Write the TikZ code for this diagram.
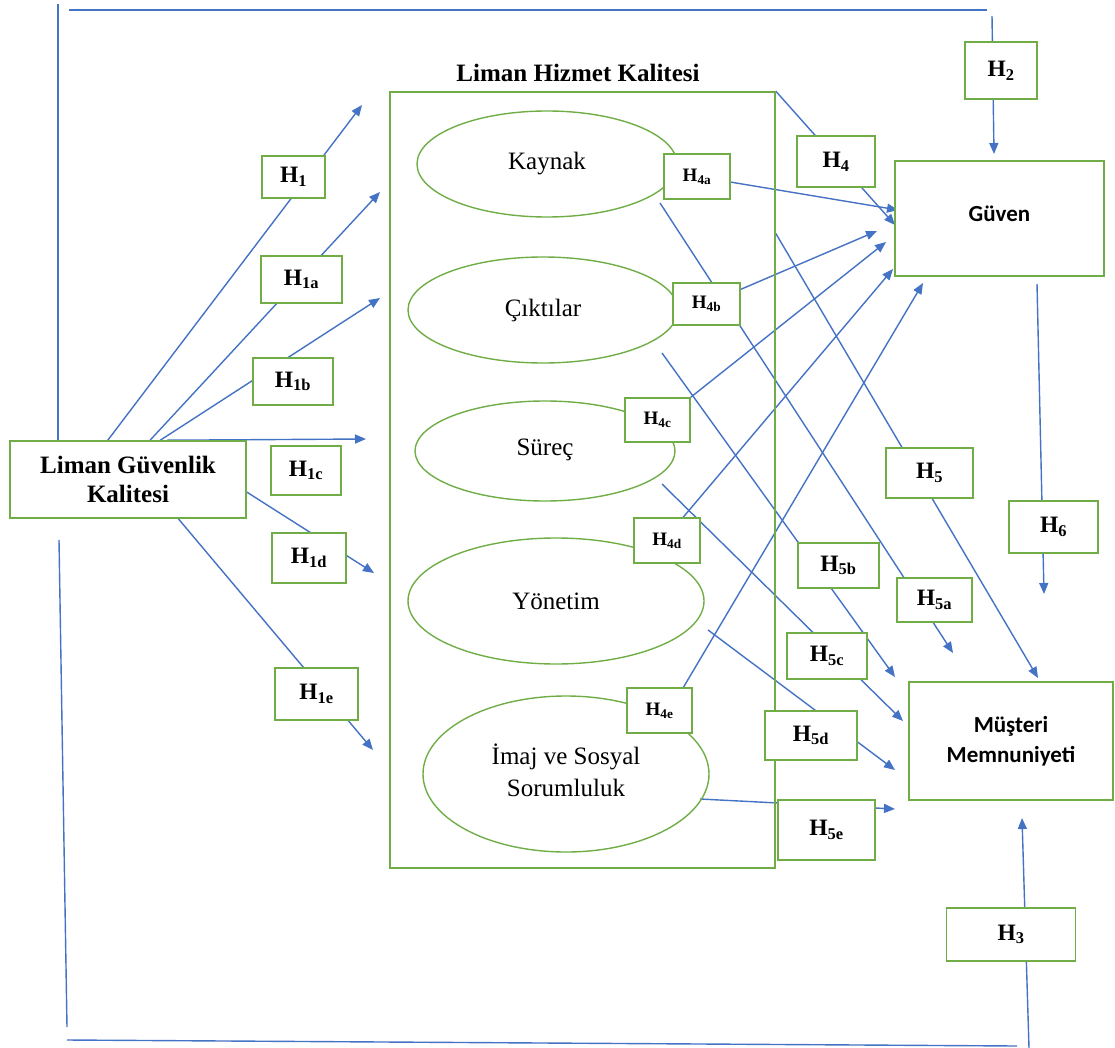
\documentclass[tikz,border=0pt]{standalone}
\usepackage{fontspec}
\setmainfont{Liberation Serif}
\newfontfamily\calibri{Carlito}
\usetikzlibrary{arrows.meta,shapes.geometric,calc}
\definecolor{lblue}{HTML}{4472C4}
\definecolor{lgreen}{HTML}{70AD47}
\pgfdeclarelayer{back}
\pgfsetlayers{back,main}
\newcommand\Hsub[1]{H\textsubscript{#1}}
\begin{document}
\begin{tikzpicture}[x=1pt,y=-1pt,
 conn/.style={draw=lblue,line width=1.4pt},
 arr/.style={conn,-{Triangle[length=11pt,width=9pt]}},
 gbox/.style={draw=lgreen,line width=1.6pt,fill=white,inner sep=0pt,font=\bfseries\fontsize{23.5}{26}\selectfont},
 sbox/.style={gbox,font=\bfseries\fontsize{19}{22}\selectfont},
 ell/.style={draw=lgreen,line width=1.4pt,ellipse,inner sep=0pt,font=\fontsize{25}{32}\selectfont},
 sansb/.style={font=\calibri\bfseries\fontsize{23}{30}\selectfont}
]
\useasboundingbox (0,0) rectangle (1115,1048);

% Main constructs
\node[gbox,minimum width=236pt,minimum height=77pt,align=center,font=\bfseries\fontsize{25}{29}\selectfont] (lg) at (128,479.5) {Liman Güvenlik\\Kalitesi};
\node[draw=lgreen,line width=1.6pt,minimum width=385pt,minimum height=776pt,inner sep=0pt] (lhk) at (582.5,480) {};
\node[font=\bfseries\fontsize{25}{28}\selectfont] (title) at (578,73) {Liman Hizmet Kalitesi};

\node[ell,minimum width=260pt,minimum height=106pt] (kay) at (547,164) {\raisebox{5pt}{Kaynak}};
\node[ell,minimum width=270pt,minimum height=106pt] (cik) at (543,310) {\raisebox{5pt}{Çıktılar}};
\node[ell,minimum width=260pt,minimum height=100pt] (sur) at (545,451) {\raisebox{8pt}{Süreç}};
\node[ell,minimum width=296pt,minimum height=126pt] (yon) at (556,601) {Yönetim};
\node[ell,minimum width=286pt,minimum height=156pt] (ima) at (566,774) {\raisebox{6pt}{\begin{tabular}{@{}c@{}}İmaj ve Sosyal\\Sorumluluk\end{tabular}}};

\node[gbox,sansb,minimum width=209pt,minimum height=115pt] (guv) at (999.5,218.5) {\raisebox{9pt}{Güven}};
\node[gbox,sansb,minimum width=204pt,minimum height=118pt] (mus) at (1011,741) {\raisebox{10pt}{\begin{tabular}{@{}c@{}}Müşteri\\Memnuniyeti\end{tabular}}};

% Hypothesis labels
\node[gbox,minimum width=63pt,minimum height=42pt] (h1) at (293.5,177) {\Hsub{1}};
\node[gbox,minimum width=81pt,minimum height=47pt] (h1a) at (301.5,279.5) {\Hsub{1a}};
\node[gbox,minimum width=80pt,minimum height=47pt] (h1b) at (293,381.5) {\Hsub{1b}};
\node[gbox,minimum width=70pt,minimum height=49pt] (h1c) at (306,470.5) {\Hsub{1c}};
\node[gbox,minimum width=74pt,minimum height=50pt] (h1d) at (309,558) {\Hsub{1d}};
\node[gbox,minimum width=83pt,minimum height=52pt] (h1e) at (316.5,694) {\Hsub{1e}};

\node[sbox,minimum width=66pt,minimum height=45pt] (h4a) at (697,176.5) {\Hsub{4a}};
\node[sbox,minimum width=67pt,minimum height=42pt] (h4b) at (706.5,304) {\Hsub{4b}};
\node[sbox,minimum width=65pt,minimum height=44pt] (h4c) at (657.5,420) {\Hsub{4c}};
\node[sbox,minimum width=66pt,minimum height=45pt] (h4d) at (667,540.5) {\Hsub{4d}};
\node[sbox,minimum width=65pt,minimum height=45pt] (h4e) at (659.5,710.5) {\Hsub{4e}};

\node[gbox,minimum width=78pt,minimum height=51pt] (h4) at (836,161.5) {\Hsub{4}};
\node[gbox,minimum width=72pt,minimum height=57pt] (h2) at (1001,70.5) {\Hsub{2}};
\node[gbox,minimum width=87pt,minimum height=50pt] (h5) at (929.5,473) {\Hsub{5}};
\node[gbox,minimum width=89pt,minimum height=52pt] (h6) at (1053.5,527) {\Hsub{6}};
\node[gbox,minimum width=75pt,minimum height=44pt] (h5a) at (934.5,600) {\Hsub{5a}};
\node[gbox,minimum width=81pt,minimum height=45pt] (h5b) at (838.5,565.5) {\Hsub{5b}};
\node[gbox,minimum width=80pt,minimum height=46pt] (h5c) at (827,656) {\Hsub{5c}};
\node[gbox,minimum width=92pt,minimum height=49pt] (h5d) at (811,735.5) {\Hsub{5d}};
\node[gbox,minimum width=97pt,minimum height=60pt] (h5e) at (826.5,830) {\Hsub{5e}};
\node[gbox,minimum width=129pt,minimum height=53pt] (h3) at (1011,934.5) {\Hsub{3}};

% Free ends of connectors
\coordinate (t1) at (362,105);
\coordinate (t1a) at (380,192);
\coordinate (t1b) at (380,298);
\coordinate (t1c) at (366,439);
\coordinate (t1d) at (374,573);
\coordinate (t1e) at (373,750);
\coordinate (t4) at (895,225);
\coordinate (t4a) at (898,210);
\coordinate (t4b) at (877,231);
\coordinate (t4c) at (886,242);
\coordinate (t4d) at (893,269);
\coordinate (t4e) at (923,283);
\coordinate (s5a) at (660,203);
\coordinate (s5b) at (662,353);
\coordinate (s5c) at (662,484);
\coordinate (s5d) at (708,630);
\coordinate (s5e) at (700,799);
\coordinate (t5) at (1038,678);
\coordinate (t5a) at (953,653);
\coordinate (t5b) at (895,677);
\coordinate (t5c) at (903,721);
\coordinate (t5d) at (895,770);
\coordinate (t5e) at (895,809);
\coordinate (s6) at (1037,284);
\coordinate (t6) at (1044,594);
\coordinate (s2) at (992,16);
\coordinate (t2) at (994,154);
\coordinate (s3) at (1029,1048);
\coordinate (t3) at (1022,818);
\coordinate (f1) at (69,10);
\coordinate (f2) at (987,10);
\coordinate (f3) at (58,4);
\coordinate (f4) at (59,540);
\coordinate (f5) at (67,1027);
\coordinate (f6) at (67,1040);
\coordinate (f7) at (1017,1046);

\begin{pgfonlayer}{back}
% frame
\draw[conn] (f1) -- (f2);
\draw[conn] (f3) -- (lg.north west -| f3);
\draw[conn] (f4) -- (f5);
\draw[conn] (f6) -- (f7);
% H1 family
\draw[arr] ($(lg.north west)!0.415!(lg.north east)$) -- (t1);
\draw[arr] ($(lg.north west)!0.593!(lg.north east)$) -- (t1a);
\draw[arr] ($(lg.north west)!0.636!(lg.north east)$) -- (t1b);
\draw[arr] ($(lg.north west)!0.665!(lg.north east)$) -- (t1c);
\draw[arr] ($(lg.north east)!0.66!(lg.south east)$) -- (t1d);
\draw[arr] ($(lg.south west)!0.712!(lg.south east)$) -- (t1e);
% H4 family
\draw[arr] (lhk.north east) -- (t4);
\draw[arr] (h4a) -- (t4a);
\draw[arr] (h4b) -- (t4b);
\draw[arr] (h4c.north east) -- (t4c);
\draw[arr] ($(h4d.north west)!0.74!(h4d.north east)$) -- (t4d);
\draw[arr] ($(h4e.north west)!0.86!(h4e.north east)$) -- (t4e);
% H5 family
\draw[arr] ($(lhk.north east)!0.183!(lhk.south east)$) -- (t5);
\draw[arr] (s5a) -- (t5a);
\draw[arr] (s5b) -- (t5b);
\draw[arr] (s5c) -- (t5c);
\draw[arr] (s5d) -- (t5d);
\draw[arr] (s5e) -- (t5e);
% H2, H3, H6
\draw[arr] (s2) -- (t2);
\draw[arr] (s3) -- (t3);
\draw[arr] (s6) -- (t6);
\end{pgfonlayer}
\end{tikzpicture}
\end{document}
